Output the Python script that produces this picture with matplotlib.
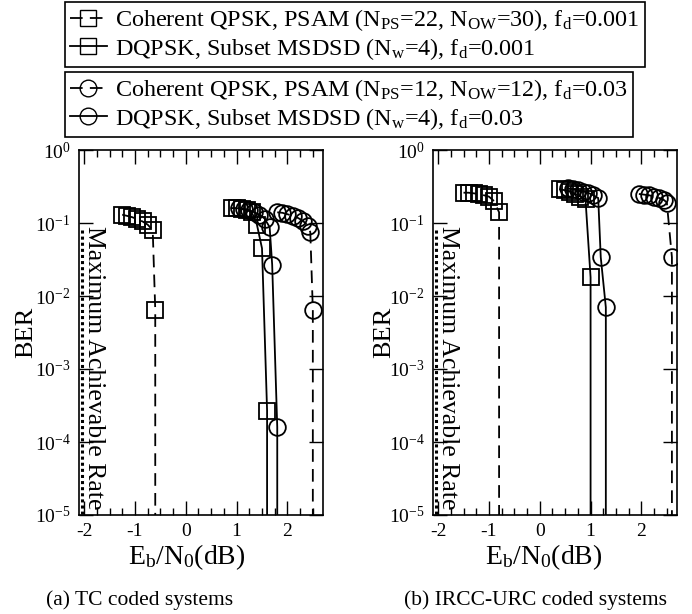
import numpy as np
import matplotlib
matplotlib.use('Agg')
import matplotlib.pyplot as plt
from matplotlib.lines import Line2D
from matplotlib.ticker import LogLocator, LogFormatterMathtext, MultipleLocator, NullLocator

plt.rcParams['font.family'] = 'Liberation Serif'
plt.rcParams['mathtext.fontset'] = 'custom'
plt.rcParams['mathtext.rm'] = 'Liberation Serif'
plt.rcParams['mathtext.it'] = 'Liberation Serif:italic'
plt.rcParams['axes.unicode_minus'] = False

# ----- data: (a) TC coded systems -----
tc_coh_slow_x = [-1.25, -1.15, -1.05, -0.95, -0.85, -0.75, -0.65, -0.6, -0.6]
tc_coh_slow_y = [0.13, 0.125, 0.12, 0.112, 0.105, 0.095, 0.08, 0.0065, 1e-8]
tc_dq_slow_x = [0.9, 1.0, 1.1, 1.2, 1.3, 1.4, 1.5, 1.6, 1.6]
tc_dq_slow_y = [0.16, 0.16, 0.155, 0.15, 0.14, 0.095, 0.045, 2.7e-4, 1e-8]
tc_dq_fast_x = [1.05, 1.15, 1.25, 1.35, 1.45, 1.55, 1.65, 1.7, 1.8, 1.8]
tc_dq_fast_y = [0.16, 0.155, 0.15, 0.14, 0.13, 0.115, 0.088, 0.027, 1.6e-4, 1e-8]
tc_coh_fast_x = [1.8, 1.9, 2.0, 2.1, 2.2, 2.3, 2.4, 2.45, 2.5, 2.5]
tc_coh_fast_y = [0.14, 0.138, 0.132, 0.125, 0.118, 0.108, 0.092, 0.075, 0.0065, 1e-8]

# ----- data: (b) IRCC-URC coded systems -----
ir_coh_slow_x = [-1.5, -1.4, -1.3, -1.2, -1.1, -1.0, -0.9, -0.8, -0.8]
ir_coh_slow_y = [0.26, 0.26, 0.255, 0.25, 0.24, 0.23, 0.2, 0.14, 1e-8]
ir_dq_slow_x = [0.4, 0.5, 0.6, 0.7, 0.8, 0.9, 1.0, 1.0]
ir_dq_slow_y = [0.29, 0.28, 0.27, 0.25, 0.23, 0.21, 0.018, 1e-8]
ir_dq_fast_x = [0.55, 0.65, 0.75, 0.85, 0.95, 1.05, 1.15, 1.2, 1.3, 1.3]
ir_dq_fast_y = [0.3, 0.29, 0.28, 0.27, 0.26, 0.24, 0.22, 0.034, 0.007, 1e-8]
ir_coh_fast_x = [1.95, 2.05, 2.15, 2.25, 2.35, 2.45, 2.5, 2.6, 2.6]
ir_coh_fast_y = [0.25, 0.245, 0.24, 0.23, 0.22, 0.205, 0.19, 0.034, 1e-8]

max_rate_x = -2.05
max_rate_y = [0.08, 1e-5]

labels = [r'Coherent QPSK, PSAM (N$_\mathregular{PS}$=22, N$_\mathregular{OW}$=30), f$_\mathregular{d}$=0.001',
          r'DQPSK, Subset MSDSD (N$_\mathregular{w}$=4), f$_\mathregular{d}$=0.001',
          r'Coherent QPSK, PSAM (N$_\mathregular{PS}$=12, N$_\mathregular{OW}$=12), f$_\mathregular{d}$=0.03',
          r'DQPSK, Subset MSDSD (N$_\mathregular{w}$=4), f$_\mathregular{d}$=0.03']
captions = ['(a) TC coded systems', '(b) IRCC-URC coded systems']

dash = (0, (7, 4))
msz = 12
lw = 1.3

fig = plt.figure(figsize=(6.92, 6.14), dpi=100)
ax1 = fig.add_axes([79/692, 99/614, 244/692, 365/614])
ax2 = fig.add_axes([433/692, 99/614, 244/692, 365/614])

panels = [
    (ax1, [(tc_coh_slow_x, tc_coh_slow_y, 's', dash), (tc_dq_slow_x, tc_dq_slow_y, 's', '-'),
           (tc_dq_fast_x, tc_dq_fast_y, 'o', '-'), (tc_coh_fast_x, tc_coh_fast_y, 'o', dash)],
     0.44, -0.17),
    (ax2, [(ir_coh_slow_x, ir_coh_slow_y, 's', dash), (ir_dq_slow_x, ir_dq_slow_y, 's', '-'),
           (ir_dq_fast_x, ir_dq_fast_y, 'o', '-'), (ir_coh_fast_x, ir_coh_fast_y, 'o', dash)],
     0.455, -0.156),
]

for ax, series, xl_pos, yl_pos in panels:
    for xs, ys, mk, ls in series:
        ax.plot(xs, ys, color='black', linestyle=ls, lw=lw, marker=mk, ms=msz,
                mfc='none', mec='black', mew=1.3)
    ax.plot([max_rate_x, max_rate_x], max_rate_y, color='black', linestyle=(0, (1, 1)), lw=2.2)
    ax.text(-1.8, 0.092, 'Maximum Achievable Rate', rotation=-90, ha='center', va='top',
            fontsize=18.5)
    ax.set_yscale('log')
    ax.set_ylim(1e-5, 1)
    ax.set_xlim(-2.1, 2.7)
    ax.xaxis.set_major_locator(MultipleLocator(1))
    ax.xaxis.set_minor_locator(MultipleLocator(0.25))
    ax.yaxis.set_major_locator(LogLocator(base=10, numticks=10))
    ax.yaxis.set_major_formatter(LogFormatterMathtext())
    ax.yaxis.set_minor_locator(NullLocator())
    ax.tick_params(which='both', direction='in', top=True, right=True, labelsize=14, pad=6)
    ax.tick_params(which='major', length=10, width=1)
    ax.tick_params(which='minor', length=5, width=1)
    for sp in ax.spines.values():
        sp.set_linewidth(1.2)
    ax.set_xlabel(r'E$_\mathregular{b}$/N$_\mathregular{0}$(dB)', fontsize=20)
    ax.set_ylabel('BER', fontsize=19)
    ax.xaxis.set_label_coords(xl_pos, -0.075)
    ax.yaxis.set_label_coords(yl_pos, 0.5)

fig.text(140/692, 1 - 600/614, captions[0], ha='center', va='center', fontsize=15.5)
fig.text(535/692, 1 - 600/614, captions[1], ha='center', va='center', fontsize=15.5)

# two stacked legend boxes on top
h_sq_d = Line2D([], [], color='black', linestyle=dash, lw=lw, marker='s', ms=msz, mfc='none')
h_sq_s = Line2D([], [], color='black', linestyle='-', lw=lw, marker='s', ms=msz, mfc='none')
h_ci_d = Line2D([], [], color='black', linestyle=dash, lw=lw, marker='o', ms=msz, mfc='none')
h_ci_s = Line2D([], [], color='black', linestyle='-', lw=lw, marker='o', ms=msz, mfc='none')

leg_kw = dict(fontsize=17.4, frameon=True, fancybox=False, edgecolor='black', framealpha=1,
              handlelength=1.5, handletextpad=0.35, borderpad=0.22, labelspacing=0.1,
              borderaxespad=0)
leg1 = fig.legend([h_sq_d, h_sq_s], labels[:2], loc='upper left',
                  bbox_to_anchor=(65/692, 1 - 2/614), **leg_kw)
leg2 = fig.legend([h_ci_d, h_ci_s], labels[2:], loc='upper left',
                  bbox_to_anchor=(65/692, 1 - 72/614), **leg_kw)
for lg in (leg1, leg2):
    lg.get_frame().set_linewidth(1.2)

fig.savefig('out.png', dpi=100)
